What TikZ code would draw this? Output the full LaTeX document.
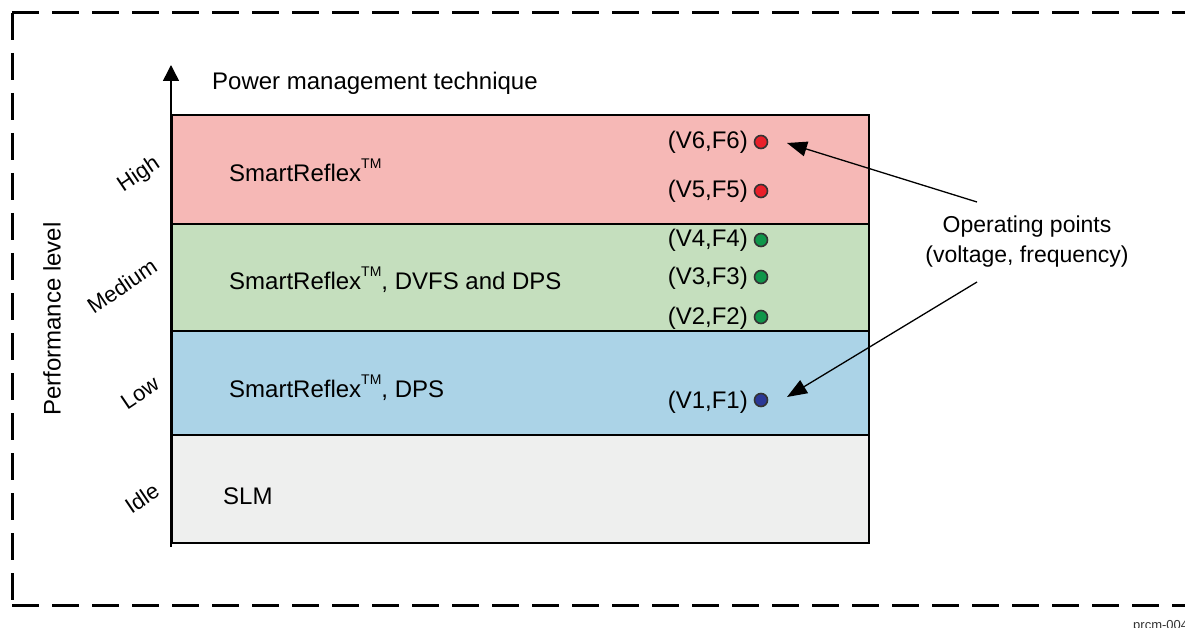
\documentclass[tikz,border=0pt]{standalone}
\usepackage{fontspec}
\setmainfont{Liberation Sans}
\usetikzlibrary{arrows.meta}
\definecolor{bandRed}{HTML}{F6B8B6}
\definecolor{bandGreen}{HTML}{C5DFBE}
\definecolor{bandBlue}{HTML}{ABD3E7}
\definecolor{bandGray}{HTML}{EEEFEE}
\definecolor{dotRed}{HTML}{E8202A}
\definecolor{dotGreen}{HTML}{0F964A}
\definecolor{dotBlue}{HTML}{2B3896}
\newcommand{\tmk}{\raisebox{13pt}{\fontsize{14}{14}\selectfont TM}}
\tikzset{
  band/.style={draw=black, line width=2.2pt, minimum width=697pt, inner sep=0pt, outer sep=0pt},
  txt/.style={inner sep=0pt, font=\fontsize{24}{28}\selectfont},
  lvl/.style={inner sep=0pt, font=\fontsize{22}{26}\selectfont, rotate=34},
  opdot/.style={circle, draw=black!80, line width=1.6pt, minimum size=13pt, inner sep=0pt},
  ptr/.style={line width=1.3pt, -{Triangle[length=20pt,width=15pt]}},
  border/.style={line width=3pt, dash pattern=on 27pt off 13pt}
}
\begin{document}
\begin{tikzpicture}[x=1pt,y=-1pt]
\useasboundingbox (0,0) rectangle (1185,628);
% dashed frame
\coordinate (ctl) at (12,13);
\coordinate (cbl) at (12,605);
\coordinate (ctr) at (1195,13);
\coordinate (cbr) at (1195,605);
\draw[border] (ctl) -- (ctr);
\draw[border] (ctl) -- (cbl);
\draw[border] (cbl) -- (cbr);
% bands
\node[band, fill=bandRed, minimum height=109pt] (high) at (520.5,169.5) {};
\node[band, fill=bandGreen, minimum height=107pt] (med) at (520.5,277.5) {};
\node[band, fill=bandBlue, minimum height=104pt] (low) at (520.5,383) {};
\node[band, fill=bandGray, minimum height=108pt] (idle) at (520.5,489) {};
% axis
\coordinate (axb) at (171,547);
\coordinate (axt) at (171,65);
\draw[line width=1.5pt, -{Triangle[length=16pt,width=16pt]}] (axb) -- (axt);
\node[txt, anchor=base west] (title) at (212,90) {Power management technique};
\node[txt, rotate=90] (perf) at (52,319) {Performance level};
% level labels
\node[lvl] (lh) at (139,175) {High};
\node[lvl] (lm) at (122,286) {Medium};
\node[lvl] (ll) at (140,393) {Low};
\node[lvl] (li) at (142,498) {Idle};
% technique texts
\node[txt, anchor=base west] (t1) at (229,182) {SmartReflex\tmk};
\node[txt, anchor=base west] (t2) at (229,289) {SmartReflex\tmk, DVFS and DPS};
\node[txt, anchor=base west] (t3) at (229,397) {SmartReflex\tmk, DPS};
\node[txt, anchor=base west] (t4) at (223,504) {SLM};
% operating points
\node[opdot, fill=dotRed] (p6) at (761,142) {};
\node[opdot, fill=dotRed] (p5) at (761,191) {};
\node[opdot, fill=dotGreen] (p4) at (761,240) {};
\node[opdot, fill=dotGreen] (p3) at (761,277) {};
\node[opdot, fill=dotGreen] (p2) at (761,317) {};
\node[opdot, fill=dotBlue] (p1) at (761,400) {};
\node[txt, anchor=base east] (l6) at (748,149) {(V6,F6)};
\node[txt, anchor=base east] (l5) at (748,198) {(V5,F5)};
\node[txt, anchor=base east] (l4) at (748,247) {(V4,F4)};
\node[txt, anchor=base east] (l3) at (748,284) {(V3,F3)};
\node[txt, anchor=base east] (l2) at (748,324) {(V2,F2)};
\node[txt, anchor=base east] (l1) at (748,408) {(V1,F1)};
% callout
\node[inner sep=0pt, align=center, font=\fontsize{23}{30}\selectfont] (op) at (1027,242) {Operating points\\(voltage, frequency)};
\coordinate (s1) at (977,202);
\coordinate (e1) at (787,143);
\coordinate (s2) at (977,282);
\coordinate (e2) at (787,397);
\draw[ptr] (s1) -- (e1);
\draw[ptr] (s2) -- (e2);
\node[inner sep=0pt, anchor=base west, font=\fontsize{13}{15}\selectfont, text=black!80] (tag) at (1133,629) {prcm-004};
\end{tikzpicture}
\end{document}
